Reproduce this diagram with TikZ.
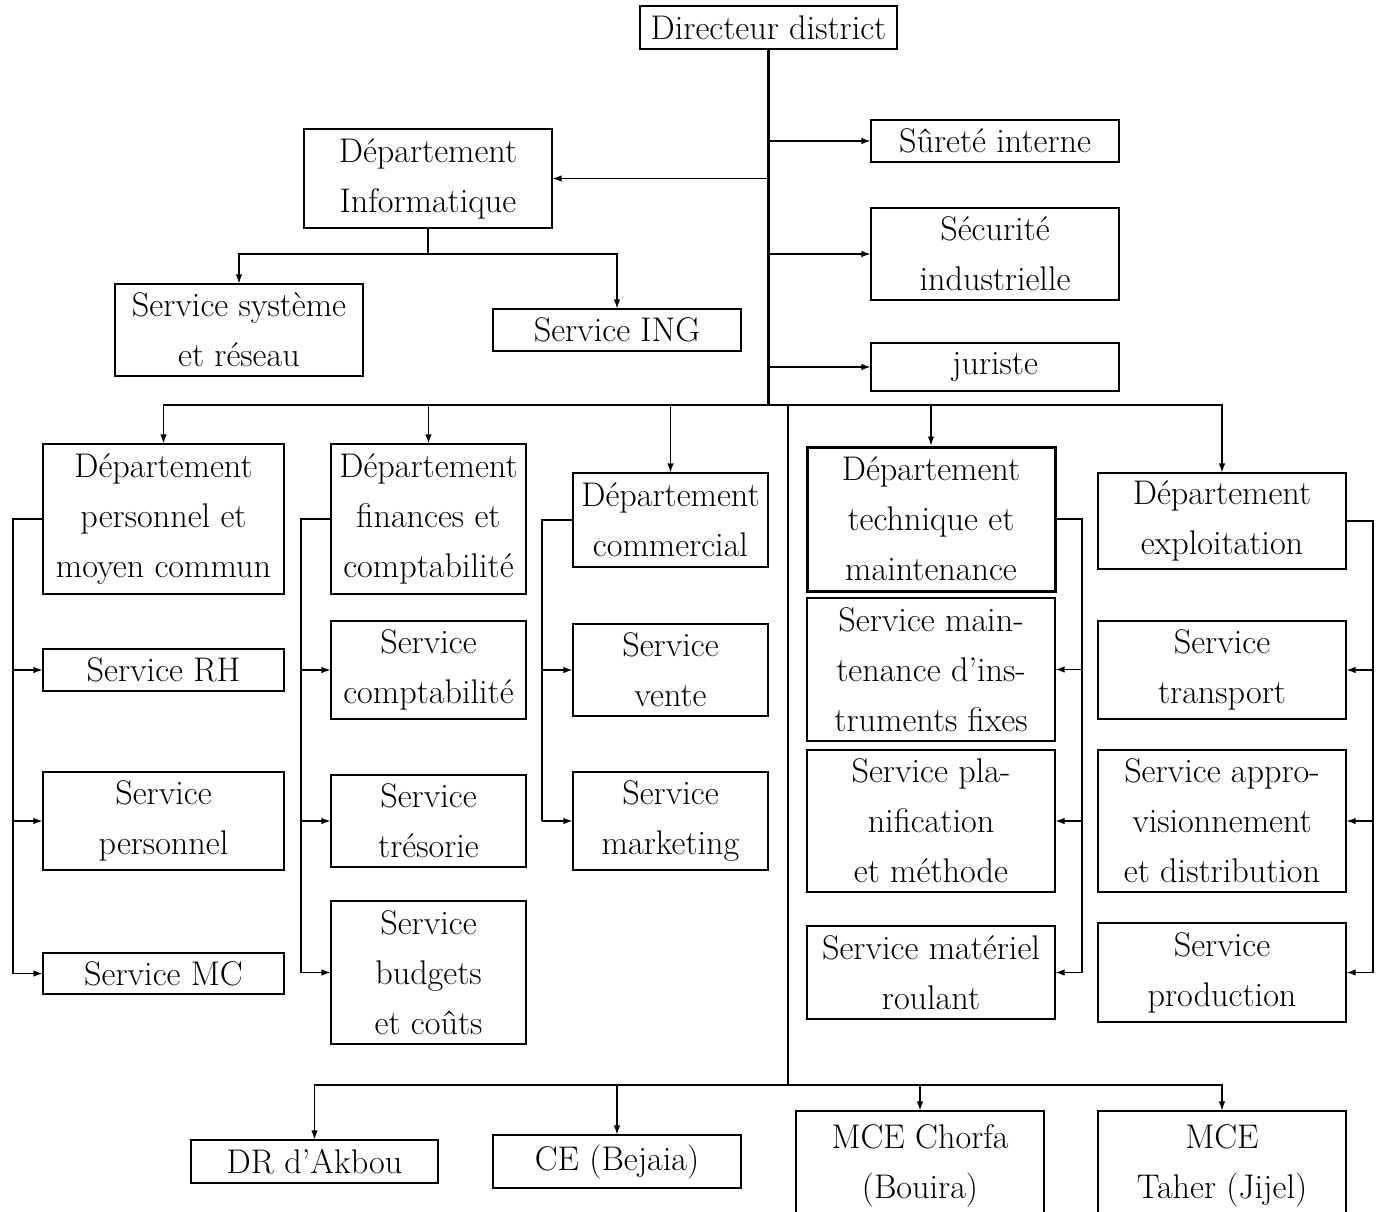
\documentclass[tikz,border=0pt]{standalone}
\usetikzlibrary{arrows.meta}
\begin{document}
\begin{tikzpicture}[x=0.5pt,y=-0.5pt,
  box/.style={draw, line width=0.55pt, inner sep=0pt, align=center,
    font=\fontsize{17.1}{25}\selectfont},
  conn/.style={line width=0.55pt},
  arr/.style={line width=0.55pt, -{Latex[length=4.5pt,width=3.2pt]}},
  mainline/.style={line width=1.2pt}]
\useasboundingbox (0,0) rectangle (1376,1211);
\clip (0,0) rectangle (1376,1211);
% top
\node[box, minimum width=128.5pt, minimum height=21.5pt] (dir) at (768.5,27.5) {Directeur district};
\node[box, minimum width=124pt, minimum height=21pt] (surete) at (995,141) {Sûreté interne};
\node[box, minimum width=124pt, minimum height=46pt] (securite) at (995,254) {Sécurité\\industrielle};
\node[box, minimum width=124pt, minimum height=24pt] (juriste) at (995,367) {juriste};
\node[box, minimum width=124pt, minimum height=49.5pt] (info) at (428,178.5) {Département\\Informatique};
\node[box, minimum width=124pt, minimum height=46pt] (sysres) at (239,330) {Service système\\et réseau};
\node[box, minimum width=124pt, minimum height=21pt] (ing) at (617,330) {Service ING};
% departments
\node[box, minimum width=120.5pt, minimum height=75pt] (dperso) at (163.5,519) {Département\\personnel et\\moyen commun};
\node[box, minimum width=97.5pt, minimum height=75pt] (dfin) at (428.5,519) {Département\\finances et\\comptabilité};
\node[box, minimum width=97.5pt, minimum height=47pt] (dcom) at (670.5,520) {Département\\commercial};
\node[box, line width=1.5pt, minimum width=124pt, minimum height=72pt] (dtech) at (931,519) {Département\\technique et\\maintenance};
\node[box, minimum width=124pt, minimum height=48pt] (dexp) at (1222,521) {Département\\exploitation};
% services
\node[box, minimum width=120.5pt, minimum height=21pt] (rh) at (163.5,670) {Service RH};
\node[box, minimum width=120.5pt, minimum height=49pt] (sperso) at (163.5,821) {Service\\personnel};
\node[box, minimum width=120.5pt, minimum height=20.5pt] (mc) at (163.5,973.5) {Service MC};
\node[box, minimum width=97.5pt, minimum height=49pt] (compta) at (428.5,670) {Service\\comptabilité};
\node[box, minimum width=97.5pt, minimum height=46pt] (treso) at (428.5,821) {Service\\trésorie};
\node[box, minimum width=97.5pt, minimum height=71.5pt] (budget) at (428.5,972.5) {Service\\budgets\\et coûts};
\node[box, minimum width=97.5pt, minimum height=46pt] (vente) at (670.5,670) {Service\\vente};
\node[box, minimum width=97.5pt, minimum height=49pt] (mkt) at (670.5,821) {Service\\marketing};
\node[box, minimum width=124pt, minimum height=71.5pt] (maint) at (931,669.5) {Service main-\\tenance d’ins-\\truments fixes};
\node[box, minimum width=124pt, minimum height=71pt] (planif) at (931,821) {Service pla-\\nification\\et méthode};
\node[box, minimum width=124pt, minimum height=46.5pt] (roulant) at (931,972.5) {Service matériel\\roulant};
\node[box, minimum width=124pt, minimum height=49pt] (transp) at (1222,670) {Service\\transport};
\node[box, minimum width=124pt, minimum height=71pt] (appro) at (1222,821) {Service appro-\\visionnement\\et distribution};
\node[box, minimum width=124pt, minimum height=49.5pt] (prod) at (1222,972.5) {Service\\production};
% bottom
\node[box, minimum width=123.5pt, minimum height=21.5pt] (akbou) at (314.5,1161.5) {DR d’Akbou};
\node[box, minimum width=124pt, minimum height=26.5pt] (bejaia) at (617,1161.5) {CE (Bejaia)};
\node[box, minimum width=124pt, minimum height=55pt] (chorfa) at (920,1166) {MCE Chorfa\\(Bouira)};
\node[box, minimum width=124pt, minimum height=55pt] (taher) at (1222,1166) {MCE\\Taher (Jijel)};
% coordinates
\coordinate (bus) at (769,405);
\coordinate (bus2) at (788,405);
\coordinate (low) at (788,1085);
\coordinate (ib) at (428,254);
\coordinate (lpx) at (13,519);
\coordinate (lfx) at (301,519);
\coordinate (lcx) at (542,520);
\coordinate (rtx) at (1082,519);
\coordinate (rex) at (1373,521);
% main trunk
\draw[mainline] (dir.south) -- (dir.south |- bus);
\draw[arr] (dir.south |- surete.west) -- (surete.west);
\draw[arr] (dir.south |- securite.west) -- (securite.west);
\draw[arr] (dir.south |- juriste.west) -- (juriste.west);
\draw[arr] (dir.south |- info.east) -- (info.east);
% informatique
\draw[conn] (info.south) -- (ib);
\draw[arr] (ib) -| (sysres.north);
\draw[arr] (ib) -| (ing.north);
% bus to departments
\draw[arr] (bus) -| (dperso.north);
\draw[arr] (bus) -| (dfin.north);
\draw[arr] (bus) -| (dcom.north);
\draw[arr] (bus) -| (dtech.north);
\draw[arr] (bus) -| (dexp.north);
% personnel
\draw[conn] (dperso.west) -- (lpx) -- (lpx |- mc.west);
\draw[arr] (lpx |- rh.west) -- (rh.west);
\draw[arr] (lpx |- sperso.west) -- (sperso.west);
\draw[arr] (lpx |- mc.west) -- (mc.west);
% finances
\draw[conn] (dfin.west) -- (lfx) -- (lfx |- budget.west);
\draw[arr] (lfx |- compta.west) -- (compta.west);
\draw[arr] (lfx |- treso.west) -- (treso.west);
\draw[arr] (lfx |- budget.west) -- (budget.west);
% commercial
\draw[conn] (dcom.west) -- (lcx) -- (lcx |- mkt.west);
\draw[arr] (lcx |- vente.west) -- (vente.west);
\draw[arr] (lcx |- mkt.west) -- (mkt.west);
% technique
\draw[conn] (dtech.east) -- (rtx) -- (rtx |- roulant.east);
\draw[arr] (rtx |- maint.east) -- (maint.east);
\draw[arr] (rtx |- planif.east) -- (planif.east);
\draw[arr] (rtx |- roulant.east) -- (roulant.east);
% exploitation
\draw[conn] (dexp.east) -- (rex) -- (rex |- prod.east);
\draw[arr] (rex |- transp.east) -- (transp.east);
\draw[arr] (rex |- appro.east) -- (appro.east);
\draw[arr] (rex |- prod.east) -- (prod.east);
% lower branch
\draw[conn] (bus2) -- (low);
\draw[arr] (low) -| (akbou.north);
\draw[arr] (low) -| (bejaia.north);
\draw[arr] (low) -| (chorfa.north);
\draw[arr] (low) -| (taher.north);
\end{tikzpicture}
\end{document}
